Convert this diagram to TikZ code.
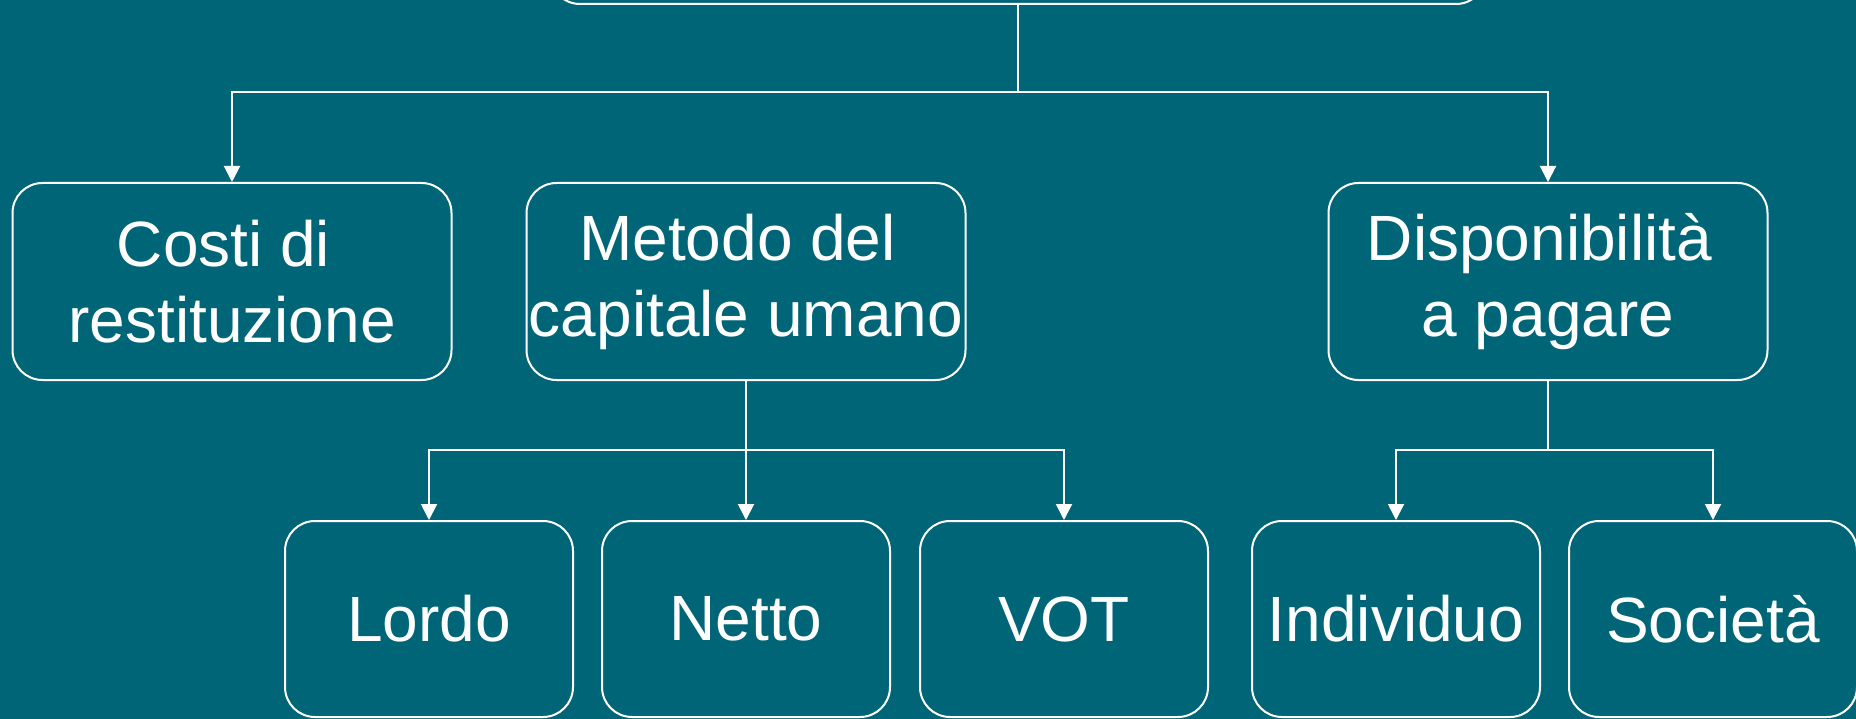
\documentclass[tikz,border=0pt]{standalone}
\usepackage{fontspec}
\setmainfont{Liberation Sans}
\usetikzlibrary{arrows.meta}
\definecolor{bg}{HTML}{006677}
\tikzset{
  box/.style={draw=white, line width=2pt, rounded corners=30pt, fill=bg, text=white,
    inner sep=0pt, align=center, font=\fontsize{64}{76}\selectfont},
  topbox/.style={box, minimum width=439pt, minimum height=197pt},
  leafbox/.style={box, minimum width=288pt, minimum height=196pt},
  arr/.style={draw=white, line width=2pt, -{Triangle[width=16pt,length=16pt]}},
  ln/.style={draw=white, line width=2pt}
}
\begin{document}
\begin{tikzpicture}[x=1pt,y=-1pt]
\useasboundingbox (0,0) rectangle (1856,719);
\clip (0,0) rectangle (1856,719);
\fill[bg] (0,0) rectangle (1856,719);
\node[box, minimum width=936pt, minimum height=108pt] (root) at (1018,-50) {};
\node[topbox] (costi) at (232,281.5) {Costi di\kern17pt\\restituzione};
\node[topbox] (metodo) at (746,281.5) {Metodo del\kern17pt\\capitale umano};
\node[topbox] (disp) at (1548,281.5) {Disponibilità\kern17pt\\a pagare};
\node[leafbox] (lordo) at (429,619) {Lordo};
\node[leafbox] (netto) at (746,619) {Netto};
\node[leafbox] (vot) at (1064,619) {VOT};
\node[leafbox] (indiv) at (1396,619) {Individuo};
\node[leafbox] (soc) at (1713,619) {Società};
\coordinate (b1) at (0,92);
\coordinate (b2) at (0,450);
\draw[ln] (root.south) -- (root.south |- b1);
\draw[arr] (root.south |- b1) -| (costi.north);
\draw[arr] (root.south |- b1) -| (disp.north);
\draw[arr] (metodo.south) -- (netto.north);
\draw[arr] (metodo.south |- b2) -| (lordo.north);
\draw[arr] (metodo.south |- b2) -| (vot.north);
\draw[ln] (disp.south) -- (disp.south |- b2);
\draw[arr] (disp.south |- b2) -| (indiv.north);
\draw[arr] (disp.south |- b2) -| (soc.north);
\end{tikzpicture}
\end{document}
